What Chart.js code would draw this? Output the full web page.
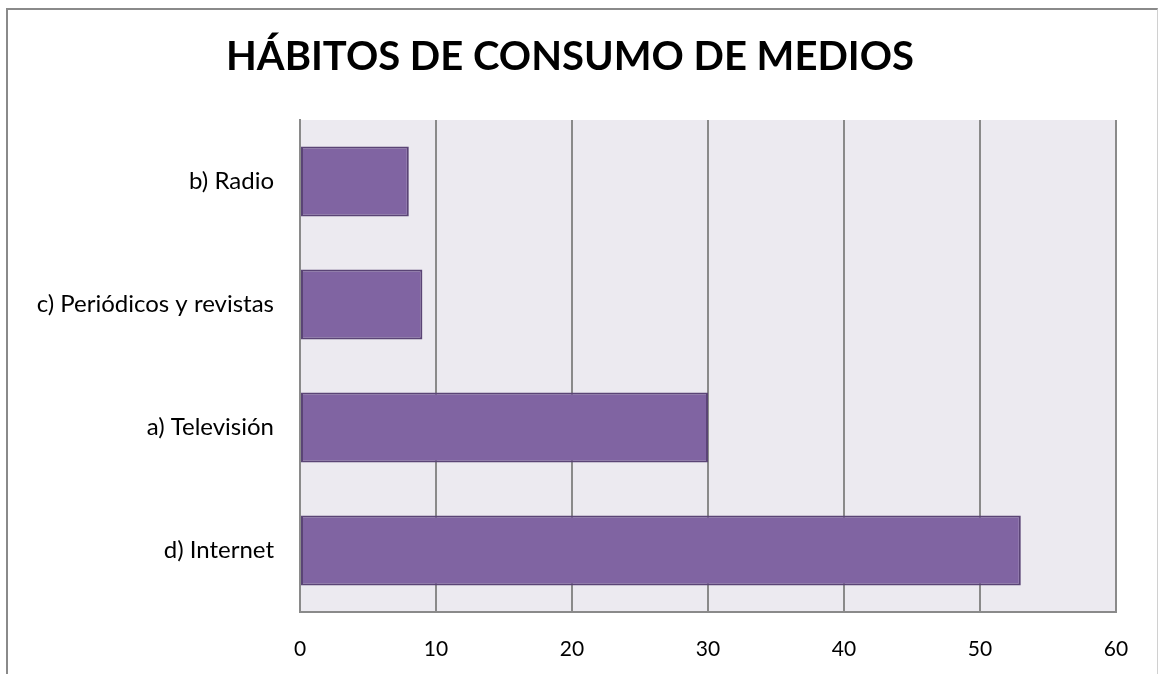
<!DOCTYPE html>
<html>
<head>
<meta charset="utf-8">
<script src="https://cdn.jsdelivr.net/npm/chart.js@4/dist/chart.umd.min.js"></script>
<style>
  html, body { margin: 0; padding: 0; background: #fff; overflow: hidden; }
  #wrap { position: relative; width: 1158px; height: 674px; }
  #frame {
    position: absolute; left: 6px; top: 8px; width: 1149px; height: 700px;
    border-left: 2px solid #8a8a8a; border-top: 2px solid #8a8a8a; border-right: 1px solid #d0d0d0;
    pointer-events: none;
  }
  canvas { position: absolute; left: 0; top: 0; }
</style>
</head>
<body>
<div id="wrap">
  <canvas id="myChart" width="1158" height="674"></canvas>
  <div id="frame"></div>
</div>
<script>
    // Datos
    const categories = ['b) Radio', 'c) Periódicos y revistas', 'a) Televisión', 'd) Internet'];
    const values = [8, 9, 30, 53];
    const xTicks = [0, 10, 20, 30, 40, 50, 60];
    const chartTitle = 'HÁBITOS DE CONSUMO DE MEDIOS';

    const fontFamily = 'Lato, "Open Sans", sans-serif';

    // Fondo del área de trazado
    const plotBackground = {
      id: 'plotBackground',
      beforeDraw(chart) {
        const { ctx, chartArea: a } = chart;
        ctx.save();
        ctx.fillStyle = '#ECEAF0';
        ctx.fillRect(a.left, a.top, a.right - a.left, a.bottom - a.top);
        ctx.restore();
      }
    };

    const config = {
      type: 'bar',
      data: {
        labels: categories,
        datasets: [{
          data: values,
          backgroundColor: '#8064A2',
          borderColor: '#5A4475',
          borderWidth: 2,
          borderSkipped: false,
          categoryPercentage: 1,
          barPercentage: 0.57
        }]
      },
      options: {
        indexAxis: 'y',
        responsive: false,
        animation: false,
        layout: { padding: { left: 24, right: 42, top: 0, bottom: 0 } },
        scales: {
          x: {
            min: 0,
            max: 60,
            afterBuildTicks: (axis) => { axis.ticks = xTicks.map(v => ({ value: v })); },
            afterFit: (axis) => { axis.height = 62; },
            grid: { color: '#8a8a8a', lineWidth: 2, drawTicks: false },
            border: { display: true, color: '#8a8a8a', width: 2 },
            ticks: { color: '#000', padding: 25, font: { family: fontFamily, size: 21 } }
          },
          y: {
            afterFit: (axis) => { axis.width = 276; },
            grid: { display: false, drawTicks: false },
            border: { display: true, color: '#8a8a8a', width: 2 },
            ticks: { color: '#000', padding: 26, font: { family: fontFamily, size: 24 } }
          }
        },
        plugins: {
          legend: { display: false },
          tooltip: { enabled: false },
          title: {
            display: true,
            text: chartTitle,
            color: '#000',
            font: { family: fontFamily, size: 40, weight: 'bold', lineHeight: 1.2 },
            padding: { top: 33, bottom: 39 }
          }
        }
      },
      plugins: [plotBackground]
    };

    const myChart = new Chart(document.getElementById('myChart'), config);
</script>
</body>
</html>
